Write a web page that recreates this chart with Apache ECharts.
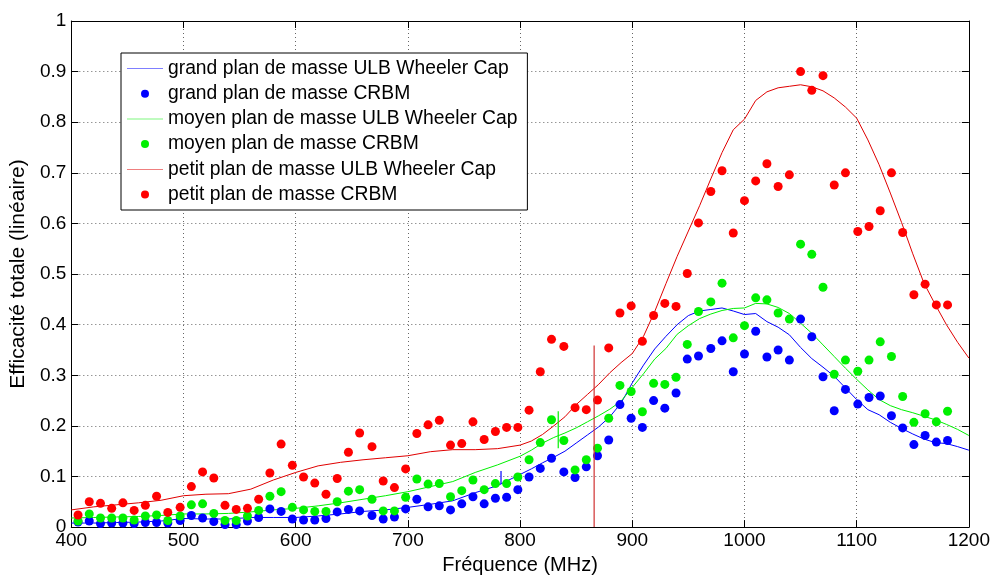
<!DOCTYPE html>
<html>
<head>
<meta charset="utf-8">
<script src="https://cdn.jsdelivr.net/npm/echarts@6/dist/echarts.min.js"></script>
<style>
html,body{margin:0;padding:0;background:#fff;}
#chart{width:993px;height:580px;}
</style>
</head>
<body>
<div id="chart"></div>
<script>
// CRBM measurement frequencies (MHz)
const dotFreq = [406,416,426,436,446,456,466,476,486,497,507,517,527,537,547,557,567,577,587,597,607,617,627,637,647,657,668,678,688,698,708,718,728,738,748,758,768,778,788,798,808,818,828,839,849,859,869,879,889,899,909,919,929,939,949,959,970,980,990,1000,1010,1020,1030,1040,1050,1060,1070,1080,1090,1101,1111,1121,1131,1141,1151,1161,1171,1181];
const grandCRBM = [0.010,0.012,0.007,0.008,0.008,0.007,0.009,0.009,0.008,0.013,0.023,0.018,0.011,0.005,0.005,0.012,0.019,0.036,0.031,0.016,0.014,0.014,0.017,0.030,0.035,0.032,0.023,0.016,0.020,0.036,0.055,0.040,0.042,0.034,0.046,0.060,0.046,0.057,0.059,0.074,0.099,0.116,0.136,0.109,0.098,0.119,0.141,0.172,0.242,0.215,0.197,0.250,0.235,0.265,0.332,0.338,0.353,0.368,0.307,0.342,0.387,0.336,0.350,0.330,0.411,0.376,0.297,0.230,0.272,0.243,0.256,0.259,0.220,0.196,0.163,0.181,0.168,0.171];
const moyenCRBM = [0.012,0.026,0.018,0.018,0.018,0.014,0.022,0.024,0.013,0.022,0.044,0.046,0.027,0.013,0.013,0.022,0.033,0.061,0.070,0.039,0.034,0.031,0.031,0.050,0.071,0.074,0.055,0.032,0.032,0.059,0.095,0.085,0.086,0.060,0.072,0.093,0.074,0.086,0.086,0.099,0.133,0.167,0.212,0.171,0.113,0.133,0.156,0.215,0.280,0.268,0.228,0.284,0.282,0.296,0.361,0.426,0.445,0.482,0.374,0.398,0.453,0.449,0.423,0.411,0.559,0.539,0.474,0.302,0.330,0.308,0.330,0.366,0.337,0.258,0.207,0.224,0.208,0.229];
const petitCRBM = [0.024,0.050,0.047,0.037,0.048,0.033,0.043,0.061,0.029,0.039,0.080,0.109,0.097,0.043,0.035,0.037,0.055,0.107,0.164,0.122,0.099,0.087,0.065,0.096,0.148,0.186,0.159,0.091,0.078,0.115,0.185,0.202,0.211,0.162,0.165,0.208,0.173,0.189,0.197,0.197,0.231,0.307,0.371,0.357,0.236,0.232,0.251,0.354,0.423,0.437,0.367,0.418,0.442,0.436,0.501,0.601,0.663,0.704,0.581,0.645,0.684,0.718,0.673,0.696,0.900,0.863,0.892,0.676,0.700,0.584,0.594,0.625,0.700,0.582,0.459,0.480,0.439,0.439];

// ULB Wheeler Cap curves
const lineFreq = [400,420,440,460,480,500,520,540,560,580,600,620,640,660,680,700,720,740,760,780,800,810,820,830,840,850,860,870,880,890,900,910,920,930,940,950,960,970,980,990,1000,1010,1020,1030,1040,1050,1060,1070,1080,1090,1100,1110,1120,1130,1140,1150,1160,1170,1180,1190,1200];
const grandULB = [0.008,0.008,0.009,0.010,0.012,0.017,0.016,0.016,0.019,0.019,0.019,0.022,0.026,0.031,0.034,0.039,0.045,0.052,0.068,0.082,0.104,0.115,0.127,0.138,0.150,0.166,0.182,0.198,0.218,0.245,0.285,0.320,0.352,0.377,0.400,0.418,0.427,0.430,0.433,0.427,0.420,0.422,0.406,0.395,0.380,0.355,0.333,0.316,0.298,0.275,0.252,0.232,0.222,0.207,0.195,0.184,0.174,0.167,0.165,0.159,0.152];
const moyenULB = [0.018,0.019,0.020,0.021,0.023,0.026,0.026,0.027,0.030,0.034,0.037,0.042,0.048,0.055,0.062,0.070,0.080,0.090,0.108,0.123,0.140,0.152,0.166,0.177,0.186,0.196,0.208,0.220,0.233,0.249,0.276,0.303,0.332,0.353,0.381,0.398,0.412,0.421,0.428,0.432,0.433,0.442,0.441,0.434,0.422,0.403,0.383,0.360,0.337,0.314,0.292,0.271,0.252,0.240,0.232,0.226,0.219,0.212,0.203,0.193,0.181];
const petitULB = [0.034,0.040,0.044,0.048,0.053,0.062,0.065,0.066,0.075,0.093,0.108,0.121,0.128,0.133,0.137,0.141,0.149,0.153,0.153,0.155,0.162,0.170,0.183,0.200,0.218,0.242,0.262,0.282,0.305,0.325,0.343,0.377,0.426,0.481,0.535,0.585,0.635,0.688,0.740,0.785,0.806,0.843,0.860,0.868,0.871,0.874,0.870,0.862,0.848,0.830,0.808,0.765,0.716,0.660,0.602,0.540,0.482,0.440,0.400,0.365,0.334];

// cursor markers [freq, from, to]
const markerBlue = [783, 0.085, 0.111];
const markerGreen = [834, 0.156, 0.229];
const markerRed = [866, 0.0, 0.359];

const xTicks = {min:400, max:1200, interval:100};
const yTicks = {min:0, max:1, interval:0.1};

const names = [
  'grand plan de masse ULB Wheeler Cap',
  'grand plan de masse CRBM',
  'moyen plan de masse ULB Wheeler Cap',
  'moyen plan de masse CRBM',
  'petit plan de masse ULB Wheeler Cap',
  'petit plan de masse CRBM'
];
const BLUE='#0000ff', GREEN='#00f000', RED='#ff0000';
const FONT = '"Liberation Sans", Arial, sans-serif';
const LINE_ICON = 'path://M0,0H72V1H0Z';

function pairs(xs, ys){ return xs.map((x,i)=>[x, ys[i]]); }
function lineSeries(name, xs, ys, color){
  return {name, type:'line', data:pairs(xs,ys), symbol:'none', showSymbol:false,
    lineStyle:{color, width:1}, itemStyle:{color}, animation:false, z:2};
}
function dotSeries(name, xs, ys, color){
  return {name, type:'scatter', data:pairs(xs,ys), symbol:'circle', symbolSize:9,
    itemStyle:{color, opacity:1}, animation:false, z:3};
}
function marker(m, color){
  return {type:'line', data:[[m[0],m[1]],[m[0],m[2]]], symbol:'none', silent:true,
    lineStyle:{color, width:1.2}, animation:false, z:4};
}

const chart = echarts.init(document.getElementById('chart'), null, {renderer:'canvas'});
const axisCommon = {
  axisLine:{show:true, onZero:false, lineStyle:{color:'#000', width:1}},
  axisTick:{show:true, inside:true, length:7, lineStyle:{color:'#000'}},
};
chart.setOption({
  backgroundColor:'#fff',
  animation:false,
  grid:{left:68, right:23, top:21, bottom:47, containLabel:false},
  legend:{
    orient:'vertical', left:121, top:53,
    backgroundColor:'#fff', borderColor:'#000', borderWidth:1, borderRadius:0,
    padding:[6,10,6,6], itemGap:6.2, itemWidth:36, itemHeight:8,
    textStyle:{fontFamily:FONT, fontSize:19.3, color:'#000', lineHeight:19},
    data:names.map((n,i)=> i%2===0 ? {name:n, icon:LINE_ICON} : {name:n, icon:'circle'}),
    selectedMode:false
  },
  xAxis:[
    Object.assign({type:'value', min:xTicks.min, max:xTicks.max, interval:xTicks.interval,
      name:'Fréquence (MHz)', nameLocation:'middle', nameGap:27,
      nameTextStyle:{fontFamily:FONT, fontSize:20, color:'#000'},
      axisLabel:{fontFamily:FONT, fontSize:19, color:'#000', margin:4, formatter:v=>String(v)},
      splitLine:{show:true, lineStyle:{color:'#666', type:[1,3], width:1}}}, axisCommon),
    Object.assign({type:'value', position:'top', min:xTicks.min, max:xTicks.max, interval:xTicks.interval,
      axisLabel:{show:false}, splitLine:{show:false}}, axisCommon)
  ],
  yAxis:[
    Object.assign({type:'value', min:yTicks.min, max:yTicks.max, interval:yTicks.interval,
      name:'Efficacité totale (linéaire)', nameLocation:'middle', nameGap:38, nameRotate:90,
      nameTextStyle:{fontFamily:FONT, fontSize:21, color:'#000'},
      axisLabel:{fontFamily:FONT, fontSize:19, color:'#000', margin:5, formatter:v=>String(Math.round(v*10)/10)},
      splitLine:{show:true, lineStyle:{color:'#666', type:[1,3], width:1}}}, axisCommon),
    Object.assign({type:'value', position:'right', min:yTicks.min, max:yTicks.max, interval:yTicks.interval,
      axisLabel:{show:false}, splitLine:{show:false}}, axisCommon)
  ],
  series:[
    lineSeries(names[0], lineFreq, grandULB, BLUE),
    dotSeries(names[1], dotFreq, grandCRBM, BLUE),
    lineSeries(names[2], lineFreq, moyenULB, GREEN),
    dotSeries(names[3], dotFreq, moyenCRBM, GREEN),
    lineSeries(names[4], lineFreq, petitULB, '#e00000'),
    dotSeries(names[5], dotFreq, petitCRBM, RED),
    marker(markerBlue, BLUE),
    marker(markerGreen, GREEN),
    marker(markerRed, '#d03030')
  ]
});
</script>
</body>
</html>
